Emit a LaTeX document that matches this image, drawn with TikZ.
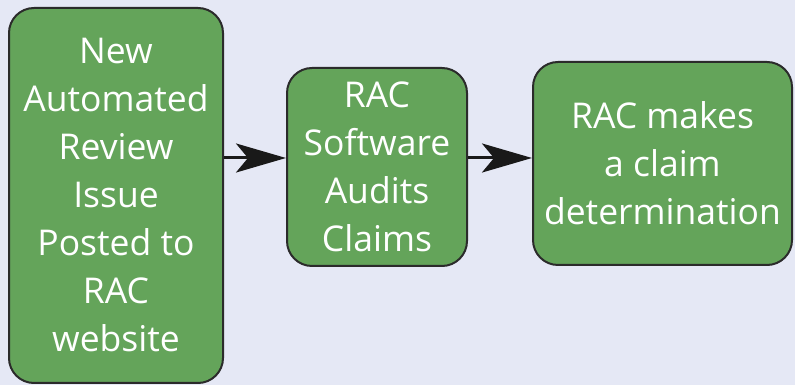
\documentclass[tikz,border=0pt]{standalone}
\usepackage{fontspec}
\setmainfont{Open Sans}
\usetikzlibrary{arrows.meta,positioning}
\definecolor{bgblue}{HTML}{E5E8F5}
\definecolor{boxgreen}{HTML}{64A45A}
\definecolor{boxline}{HTML}{2B2B2B}

\begin{document}
\begin{tikzpicture}[x=1pt,y=1pt,
    stepbox/.style={draw=boxline, line width=2pt, fill=boxgreen, rounded corners=25pt,
      text=white, align=center, inner sep=0pt, font=\fontsize{35.5}{48}\selectfont},
    flowarrow/.style={line width=3pt, black!90, -{Stealth[length=50pt, width=29pt, inset=12pt]}}]
          % background
          \fill[bgblue] (0,0) rectangle (795,385);
          \useasboundingbox (0,0) rectangle (795,385);

          % add the three boxes
          \node[stepbox, minimum width=214pt, minimum height=375pt] (issue) at (116,189.5)
            {New\\Automated\\Review\\Issue\\Posted to\\RAC\\website};
          \node[stepbox, minimum width=180pt, minimum height=198pt] (audit) at (377,218)
            {RAC\\Software\\Audits\\Claims};
          \node[stepbox, minimum width=259pt, minimum height=203pt] (decide) at (662.5,221.5)
            {RAC makes\\a claim\\determination};

          % add arrows between the boxes
          \draw[flowarrow] (issue.east |- 0,227) -- (audit.west |- 0,227);
          \draw[flowarrow] (audit.east |- 0,227) -- (decide.west |- 0,227);
\end{tikzpicture}
\end{document}
